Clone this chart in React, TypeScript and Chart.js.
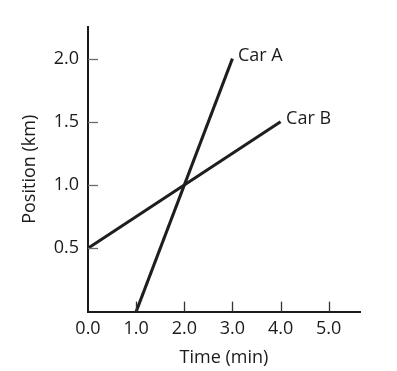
import React, { useEffect, useRef } from "react";
import { Chart, registerables } from "chart.js";

Chart.register(...registerables);

const carATimes = [1, 3];
const carAPositions = [0, 2];
const carBTimes = [0, 4];
const carBPositions = [0.5, 1.5];
const xTickValues = [0, 1, 2, 3, 4, 5];
const yTickValues = [0.5, 1.0, 1.5, 2.0];
const seriesLabels = ["Car A", "Car B"];
const xTitle = "Time (min)";
const yTitle = "Position (km)";

const FONT = "'Open Sans', sans-serif";
const INK = "#1c1a1b";
const FS = 18;

const overlayPlugin = {
  id: "overlay",
  afterDraw(chart: any) {
    const ctx = chart.ctx;
    const xs = chart.scales.x;
    const ys = chart.scales.y;
    const area = chart.chartArea;
    ctx.save();
    // inward tick marks
    ctx.lineWidth = 1.3;
    ctx.strokeStyle = "#6d6d6d";
    yTickValues.forEach((v) => {
      const py = Math.round(ys.getPixelForValue(v)) + 0.5;
      ctx.beginPath();
      ctx.moveTo(area.left, py);
      ctx.lineTo(area.left + 10, py);
      ctx.stroke();
    });
    ctx.strokeStyle = "#333";
    xTickValues.forEach((v) => {
      if (v === 0) return;
      const px = Math.round(xs.getPixelForValue(v)) + 0.5;
      ctx.beginPath();
      ctx.moveTo(px, area.bottom);
      ctx.lineTo(px, area.bottom - 10);
      ctx.stroke();
    });
    // axis titles
    ctx.fillStyle = INK;
    ctx.font = `${FS}px ${FONT}`;
    ctx.textAlign = "center";
    ctx.textBaseline = "middle";
    ctx.fillText(xTitle, (area.left + area.right) / 2, 358);
    ctx.save();
    ctx.translate(30, (area.top + area.bottom) / 2);
    ctx.rotate(-Math.PI / 2);
    ctx.fillText(yTitle, 0, 0);
    ctx.restore();
    // series labels at line ends
    ctx.textAlign = "left";
    const ends = [
      [carATimes[carATimes.length - 1], carAPositions[carAPositions.length - 1]],
      [carBTimes[carBTimes.length - 1], carBPositions[carBPositions.length - 1]],
    ];
    ends.forEach((e, i) => {
      const px = xs.getPixelForValue(e[0]);
      const py = ys.getPixelForValue(e[1]);
      ctx.fillText(seriesLabels[i], px + 5.5, py - 3);
    });
    ctx.restore();
  },
};

export default function App() {
  const ref = useRef<HTMLCanvasElement | null>(null);
  useEffect(() => {
    if (!ref.current) return;
    const chart = new Chart(ref.current, {
      type: "scatter",
      data: {
        datasets: [
          {
            label: seriesLabels[0],
            data: carATimes.map((t, i) => ({ x: t, y: carAPositions[i] })),
            showLine: true,
            borderColor: "#1e1e1e",
            borderWidth: 3,
            pointRadius: 0,
            clip: false as any,
          },
          {
            label: seriesLabels[1],
            data: carBTimes.map((t, i) => ({ x: t, y: carBPositions[i] })),
            showLine: true,
            borderColor: "#1e1e1e",
            borderWidth: 3,
            pointRadius: 0,
            clip: false as any,
          },
        ],
      },
      options: {
        animation: false,
        responsive: false,
        maintainAspectRatio: false,
        events: [],
        layout: { padding: { top: 27, right: 37, left: 0, bottom: 0 } },
        plugins: { legend: { display: false }, tooltip: { enabled: false } },
        scales: {
          x: {
            type: "linear",
            min: 0,
            max: 5.65,
            afterBuildTicks: (s: any) => {
              s.ticks = xTickValues.map((v) => ({ value: v }));
            },
            afterFit: (s: any) => {
              s.height = 59.4;
            },
            grid: { display: false, drawTicks: false },
            border: { display: true, color: INK, width: 2 },
            ticks: {
              color: INK,
              font: { family: FONT, size: FS },
              padding: 6,
              maxRotation: 0,
              autoSkip: false,
              callback: (v: any) => Number(v).toFixed(1),
            },
          },
          y: {
            type: "linear",
            min: 0,
            max: 2.25,
            afterBuildTicks: (s: any) => {
              s.ticks = yTickValues.map((v) => ({ value: v }));
            },
            afterFit: (s: any) => {
              s.width = 88;
            },
            grid: { display: false, drawTicks: false },
            border: { display: true, color: INK, width: 2 },
            ticks: {
              color: INK,
              font: { family: FONT, size: FS },
              padding: 9,
              autoSkip: false,
              callback: (v: any) => Number(v).toFixed(1),
            },
          },
        },
      },
      plugins: [overlayPlugin],
    });
    return () => chart.destroy();
  }, []);
  return (
    <div style={{ position: "fixed", left: 0, top: 0, width: 397, height: 371, background: "#fff" }}>
      <canvas ref={ref} width={397} height={371} style={{ width: 397, height: 371 }} />
    </div>
  );
}
